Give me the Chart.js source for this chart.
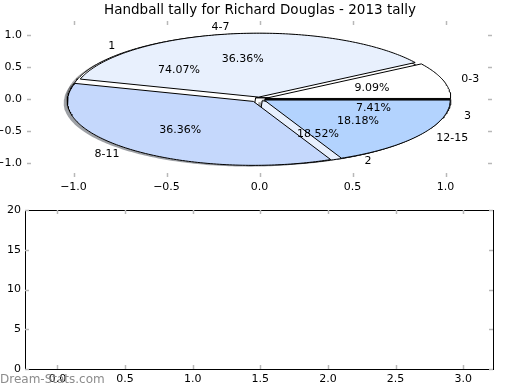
<!DOCTYPE html>
<html>
<head>
<meta charset="utf-8">
<script src="https://cdn.jsdelivr.net/npm/chart.js@4.4.0/dist/chart.umd.min.js"></script>
<style>
  body { margin: 0; background: #fff; }
  #wrap { position: relative; width: 520px; height: 390px; }
  #pieBox { position: absolute; left: 0; top: 0; width: 520px; height: 195px; }
  #emptyBox { position: absolute; left: 0; top: 195px; width: 520px; height: 195px; }
  #mark { position: absolute; left: 0; top: 372px; font: 12px "DejaVu Sans"; color: #8c8c8c; }
</style>
</head>
<body>
<div id="wrap">
  <div id="pieBox"><canvas id="pieChart" width="520" height="195"></canvas></div>
  <div id="emptyBox"><canvas id="emptyChart" width="520" height="195"></canvas></div>
  <div id="mark">Dream-Stats.com</div>
</div>
<script>
// data
const ageGroups = ["0-3", "4-7", "8-11", "12-15"];
const ageCounts = [1, 4, 4, 2];
const places = ["1", "2", "3"];
const placeCounts = [20, 5, 2];
const pieTicks = [-1.0, -0.5, 0.0, 0.5, 1.0];
const emptyXTicks = [0.0, 0.5, 1.0, 1.5, 2.0, 2.5, 3.0];
const emptyYTicks = [0, 5, 10, 15, 20];

// style
const ageColors = ["#ffffff", "#e8f0fd", "#c5d8fc", "#b3d3fe"];
const placeColors = ["#ffffff", "#e8f0fd", "#c5d8fc"];
const ageExplode = [0.03, 0.03, 0.05, 0.03];
const placeExplode = [0.03, 0.03, 0.03];
const FONT = "DejaVu Sans";

// wedge outlines built from the counts
function wedges(counts, explode) {
  const total = counts.reduce((a, b) => a + b, 0);
  let start = 0;
  return counts.map((c, i) => {
    const t1 = start / total * 2 * Math.PI;
    const t2 = (start + c) / total * 2 * Math.PI;
    start += c;
    const mid = (t1 + t2) / 2;
    const cx = explode[i] * Math.cos(mid);
    const cy = explode[i] * Math.sin(mid);
    const pts = [{ x: cx, y: cy }];
    const n = Math.max(2, Math.ceil((t2 - t1) / (Math.PI / 180)));
    for (let k = 0; k <= n; k++) {
      const a = t1 + (t2 - t1) * k / n;
      pts.push({ x: cx + Math.cos(a), y: cy + Math.sin(a) });
    }
    pts.push({ x: cx, y: cy });
    return { pts, mid, cx, cy, pct: c / total * 100 };
  });
}

const ageW = wedges(ageCounts, ageExplode);
const placeW = wedges(placeCounts, placeExplode);

function shade(hex) {
  const r = parseInt(hex.slice(1, 3), 16), g = parseInt(hex.slice(3, 5), 16), b = parseInt(hex.slice(5, 7), 16);
  return "rgba(" + Math.round(r * 0.3) + "," + Math.round(g * 0.3) + "," + Math.round(b * 0.3) + ",0.5)";
}

function wedgeSet(w, color, order) {
  return {
    data: w.pts, borderColor: "#000", borderWidth: 1, backgroundColor: color,
    fill: "shape", pointRadius: 0, tension: 0, order: order
  };
}
function shadowSet(w, color) {
  return {
    data: w.pts.map(p => ({ x: p.x - 0.02, y: p.y - 0.02 })),
    borderWidth: 0, borderColor: "rgba(0,0,0,0)", backgroundColor: shade(color),
    fill: "shape", pointRadius: 0, tension: 0, order: 3
  };
}

const pieData = [];
placeW.forEach((w, i) => pieData.push(shadowSet(w, placeColors[i])));
ageW.forEach((w, i) => pieData.push(shadowSet(w, ageColors[i])));
placeW.forEach((w, i) => pieData.push(wedgeSet(w, placeColors[i], 2)));
ageW.forEach((w, i) => pieData.push(wedgeSet(w, ageColors[i], 1)));

function fmt1(v) { return v.toFixed(1).replace("-", "\u2212"); }

function axis(pos, min, max, ticks, size, labels, fmt, border, pad) {
  const horiz = pos === "top" || pos === "bottom";
  return {
    type: "linear", position: pos, min: min, max: max,
    grid: { display: false, drawTicks: false },
    border: { display: border, color: "#000", width: 1 },
    ticks: {
      display: labels, color: "#000", font: { family: FONT, size: 11 },
      padding: pad, maxRotation: 0, autoSkip: false,
      callback: fmt
    },
    afterBuildTicks: s => { s.ticks = ticks.map(v => ({ value: v })); },
    afterFit: s => { if (horiz) s.height = size; else s.width = size; }
  };
}

// small grey tick marks pointing into the plot
const innerTicks = {
  id: "innerTicks",
  afterDraw(chart) {
    const { ctx, chartArea: a } = chart;
    ctx.save();
    ctx.strokeStyle = "#b8b8b8";
    ctx.lineWidth = 1.5;
    Object.values(chart.scales).forEach(s => {
      s.ticks.forEach(t => {
        const p = Math.round(s.getPixelForValue(t.value)) + 0.5;
        ctx.beginPath();
        if (s.position === "bottom") { ctx.moveTo(p, a.bottom); ctx.lineTo(p, a.bottom - 4); }
        if (s.position === "top") { ctx.moveTo(p, a.top); ctx.lineTo(p, a.top + 4); }
        if (s.position === "left") { ctx.moveTo(a.left, p); ctx.lineTo(a.left + 4, p); }
        if (s.position === "right") { ctx.moveTo(a.right, p); ctx.lineTo(a.right - 4, p); }
        ctx.stroke();
      });
    });
    ctx.restore();
  }
};

const pieLabels = {
  id: "pieLabels",
  afterDatasetsDraw(chart) {
    const { ctx } = chart;
    const x = chart.scales.x, y = chart.scales.y;
    ctx.save();
    ctx.font = "11px '" + FONT + "'";
    ctx.fillStyle = "#000";
    ctx.textBaseline = "middle";
    [[placeW, places], [ageW, ageGroups]].forEach(([ws, names]) => {
      ws.forEach((w, i) => {
        const lx = w.cx + 1.1 * Math.cos(w.mid), ly = w.cy + 1.1 * Math.sin(w.mid);
        ctx.textAlign = lx > 0 ? "left" : "right";
        ctx.fillText(names[i], x.getPixelForValue(lx), y.getPixelForValue(ly));
        const px = w.cx + 0.6 * Math.cos(w.mid), py = w.cy + 0.6 * Math.sin(w.mid);
        ctx.textAlign = "center";
        ctx.fillText(w.pct.toFixed(2) + "%", x.getPixelForValue(px), y.getPixelForValue(py));
      });
    });
    ctx.restore();
  }
};

new Chart(document.getElementById("pieChart"), {
  type: "line",
  data: { datasets: pieData },
  options: {
    responsive: false, animation: false, events: [],
    layout: { padding: 0 },
    plugins: {
      legend: { display: false }, tooltip: { enabled: false },
      title: {
        display: true, text: "Handball tally for Richard Douglas - 2013 tally",
        color: "#000", font: { family: FONT, size: 13.5, weight: "normal", lineHeight: 1.2 },
        padding: { top: 2.5, bottom: 2.3 }
      }
    },
    scales: {
      x: axis("bottom", -1.25, 1.25, pieTicks, 18, true, fmt1, false, 4),
      y: axis("left", -1.22, 1.22, pieTicks, 27, true, fmt1, false, 5),
      xTop: axis("top", -1.25, 1.25, pieTicks, 0, false, fmt1, false, 0),
      yRight: axis("right", -1.22, 1.22, pieTicks, 28, false, fmt1, false, 0)
    }
  },
  plugins: [innerTicks, pieLabels]
});

new Chart(document.getElementById("emptyChart"), {
  type: "line",
  data: { datasets: [] },
  options: {
    responsive: false, animation: false, events: [],
    layout: { padding: 0 },
    plugins: { legend: { display: false }, tooltip: { enabled: false } },
    scales: {
      x: axis("bottom", -0.24, 3.22, emptyXTicks, 21, true, fmt1, true, 4),
      y: axis("left", 0, 20, emptyYTicks, 25, true, v => String(v), true, 4),
      xTop: axis("top", -0.24, 3.22, emptyXTicks, 15, false, fmt1, true, 0),
      yRight: axis("right", 0, 20, emptyYTicks, 27, false, v => String(v), true, 0)
    }
  },
  plugins: [innerTicks]
});
</script>
</body>
</html>
